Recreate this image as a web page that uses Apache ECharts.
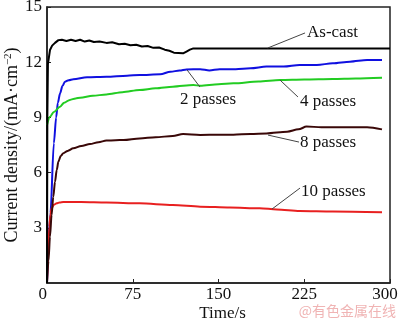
<!DOCTYPE html>
<html><head><meta charset="utf-8">
<script src="https://cdn.jsdelivr.net/npm/echarts@6/dist/echarts.min.js"></script>
<style>html,body{margin:0;padding:0;background:#fff}#c{width:400px;height:322px}</style>
</head><body><div id="c"></div>
<script>
// ---- data (time in s, current density in mA·cm^-2) ----
const xTicks = [0, 75, 150, 225, 300];
const yTicks = [0, 3, 6, 9, 12, 15];

const asCastT = [0, 0.3, 0.8, 2.6, 4.5, 7, 10, 13, 17, 21, 25, 29, 33, 37, 41, 46, 52, 57, 63, 68, 73, 78, 83, 88, 93, 98, 103, 107, 111, 115, 119, 122, 125, 128, 300];
const asCastV = [0, 9.0, 11.9, 12.66, 12.9, 13.05, 13.2, 13.22, 13.15, 13.22, 13.15, 13.22, 13.12, 13.18, 13.1, 13.12, 13.05, 13.08, 12.98, 13.0, 12.92, 12.95, 12.85, 12.88, 12.78, 12.8, 12.68, 12.62, 12.52, 12.5, 12.48, 12.58, 12.68, 12.75, 12.75];

const pass2T = [0, 3, 6, 8, 9.5, 11.4, 13.5, 15.7, 19, 23, 35, 52, 70, 81, 99, 108, 116, 122, 134, 142, 151, 165, 178, 192, 207, 221, 236, 250, 265, 280, 293];
const pass2V = [0, 3.8, 7.6, 9.0, 9.8, 10.3, 10.7, 10.94, 11.02, 11.07, 11.18, 11.21, 11.27, 11.3, 11.34, 11.48, 11.55, 11.61, 11.62, 11.55, 11.62, 11.62, 11.67, 11.76, 11.76, 11.85, 11.85, 11.94, 12.03, 12.12, 12.12];

const pass4T = [0, 2.6, 6, 11.4, 15, 20, 25, 29, 40, 52, 66, 81, 95, 110, 128, 134, 150, 163, 185, 204, 225, 250, 270, 293];
const pass4V = [8.59, 9.04, 9.3, 9.58, 9.8, 9.95, 10.03, 10.07, 10.17, 10.25, 10.37, 10.49, 10.58, 10.67, 10.76, 10.72, 10.8, 10.85, 10.95, 11.03, 11.06, 11.09, 11.12, 11.16];

const pass8T = [0, 1.3, 2.6, 4, 5.5, 7, 8.5, 10, 12, 14.3, 18, 23, 30, 37.6, 45, 52, 60, 67, 81, 95, 110, 119, 134, 150, 163, 178, 192, 210, 220, 227, 240, 250, 265, 280, 293];
const pass8V = [0, 1.2, 2.52, 3.7, 4.69, 5.5, 6.14, 6.6, 6.9, 7.05, 7.18, 7.32, 7.45, 7.55, 7.65, 7.74, 7.76, 7.77, 7.86, 7.92, 7.99, 8.1, 8.05, 8.06, 8.06, 8.1, 8.13, 8.22, 8.35, 8.5, 8.47, 8.46, 8.46, 8.46, 8.35];

const pass10T = [0, 1, 2, 3, 4, 6, 8.5, 11, 14.3, 30, 52, 81, 110, 134, 160, 186, 201, 221, 250, 293];
const pass10V = [0, 1.5, 3.06, 3.7, 4.06, 4.25, 4.33, 4.38, 4.4, 4.4, 4.37, 4.33, 4.24, 4.15, 4.1, 4.06, 4.0, 3.91, 3.88, 3.84];

// annotation labels: text, anchor on curve [t,v], leader end [t,v]
const annoText = ['As-cast', '2 passes', '4 passes', '8 passes', '10 passes'];
const annoAnchor = [[193, 12.77], [122.5, 11.58], [203.8, 11.03], [193.3, 8.04], [196.8, 4.02]];
const annoEnd = [[225.7, 13.59], [133.8, 10.65], [219.5, 10.11], [220.4, 7.66], [221.3, 5.16]];
const annoTextPos = [[227.4, 13.59], [116.3, 9.95], [221.3, 9.84], [221.3, 7.61], [222.2, 4.95]];

const zip = (t, v) => t.map((x, i) => [x, v[i]]);
const SERIF = '"Liberation Serif","Times New Roman",serif';

const chart = echarts.init(document.getElementById('c'), null, {renderer: 'canvas'});
function line(name, t, v, color, smooth) {
  return {name, type: 'line', data: zip(t, v), showSymbol: false, symbol: 'none',
    smooth: smooth ? 0.3 : false, smoothMonotone: 'x',
    lineStyle: {color, width: 2}, itemStyle: {color}, animation: false};
}
chart.setOption({
  animation: false,
  grid: {left: 47, right: 10, top: 7, bottom: 39, show: true, borderColor: '#222', borderWidth: 1.5,
    containLabel: false, outerBoundsMode: 'none'},
  xAxis: {
    type: 'value', min: xTicks[0], max: xTicks[xTicks.length - 1], interval: 75,
    axisLine: {show: true, lineStyle: {color: '#222', width: 1.5}},
    axisTick: {show: true, inside: true, length: 4, lineStyle: {color: '#222'}},
    splitLine: {show: false},
    axisLabel: {margin: 3, fontFamily: SERIF, fontSize: 17, color: '#111',
      alignMinLabel: 'right', alignMaxLabel: 'center',
      formatter: v => v === 300 ? '{r|300}' : String(v),
      rich: {r: {padding: [0, 10, 0, 0], fontFamily: SERIF, fontSize: 17, color: '#111'}}},
    name: 'Time/s', nameLocation: 'middle', nameGap: 22, nameMoveOverlap: false,
    nameTextStyle: {fontFamily: SERIF, fontSize: 17, color: '#111', padding: [0, 0, 0, 8]}
  },
  yAxis: {
    type: 'value', min: yTicks[0], max: yTicks[yTicks.length - 1], interval: 3,
    axisLine: {show: true, lineStyle: {color: '#222', width: 1.5}},
    axisTick: {show: true, inside: true, length: 4, lineStyle: {color: '#222'}},
    splitLine: {show: false},
    axisLabel: {margin: 5, fontFamily: SERIF, fontSize: 17, color: '#111', showMinLabel: false},
    name: '{a|Current density/(mA·cm}{s|−2}{a|)}', nameLocation: 'middle', nameGap: 26, nameRotate: 90,
    nameMoveOverlap: false,
    nameTextStyle: {rich: {
      a: {fontFamily: SERIF, fontSize: 18, color: '#111'},
      s: {fontFamily: SERIF, fontSize: 11, color: '#111', verticalAlign: 'top', padding: [0, 0, 6, 0]}}}
  },
  series: [
    line('2 passes', pass2T, pass2V, '#1010e0', true),
    line('4 passes', pass4T, pass4V, '#22cc22', true),
    line('10 passes', pass10T, pass10V, '#e82020', true),
    line('8 passes', pass8T, pass8V, '#3a0808', true),
    line('As-cast', asCastT, asCastV, '#000000', false)
  ]
});

const g = [];
annoText.forEach((txt, i) => {
  const a = chart.convertToPixel({gridIndex: 0}, annoAnchor[i]);
  const e = chart.convertToPixel({gridIndex: 0}, annoEnd[i]);
  const p = chart.convertToPixel({gridIndex: 0}, annoTextPos[i]);
  g.push({type: 'line', shape: {x1: a[0], y1: a[1], x2: e[0], y2: e[1]}, style: {stroke: '#444', lineWidth: 1}, z: 100});
  g.push({type: 'text', x: p[0], y: p[1], style: {text: txt, font: '17px ' + SERIF, fill: '#111', textVerticalAlign: 'middle', textAlign: 'left'}, z: 100});
});
g.push({type: 'text', right: 4, top: 304, style: {text: '@有色金属在线', font: '14px "Noto Sans CJK SC"', fill: '#f0b4b4'}, z: 100});
chart.setOption({graphic: g});
</script></body></html>
